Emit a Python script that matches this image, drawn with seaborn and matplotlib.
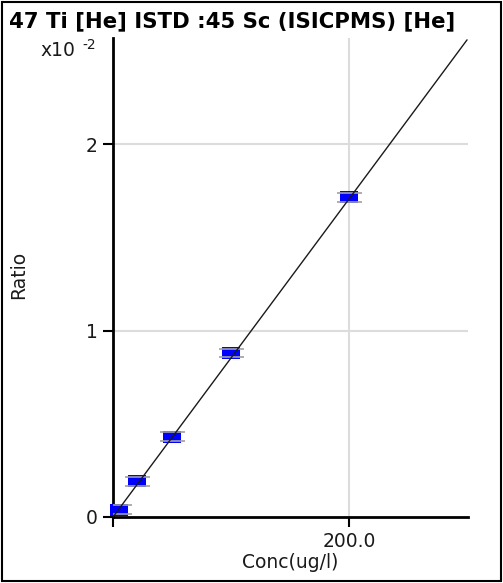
import matplotlib
matplotlib.use("Agg")
import matplotlib.pyplot as plt
import seaborn as sns
import numpy as np
import pandas as pd

sns.set_style("white")
plt.rcParams['font.family'] = ['DejaVu Sans']

# data (ratio in units of x10^-2)
conc = [5, 20, 50, 100, 200]
ratio = [0.04, 0.193, 0.43, 0.88, 1.716]
ratio_err = [0.024, 0.024, 0.024, 0.024, 0.024]
fit_x = [0, 300]
fit_y = [0.0, 2.56]
x_ticks = [0, 200]
x_ticklabels = ["", "200.0"]
y_ticks = [0, 1, 2]
y_ticklabels = ["0", "1", "2"]

W, H = 503, 583
fig = plt.figure(figsize=(W / 100, H / 100), dpi=100)
ax = fig.add_axes([113 / W, (H - 517) / H, 355 / W, 479 / H])

ax.set_xlim(0, 300.8)
ax.set_ylim(0, 2.57)

# grid
for gx in [200]:
    ax.axvline(gx, color="#dcdcdc", lw=1.5, zorder=0)
for gy in [1, 2]:
    ax.axhline(gy, color="#dcdcdc", lw=1.5, zorder=0)

# markers (wide blue rectangles)
rect = [(-1, -0.7), (1, -0.7), (1, 0.7), (-1, 0.7), (-1, -0.7)]
df = pd.DataFrame({"conc": conc, "ratio": ratio})
sns.scatterplot(data=df, x="conc", y="ratio", ax=ax, marker=rect, s=170,
                color="#0000ff", edgecolor="#0000ff", linewidth=0, zorder=4,
                clip_on=False)

# error bars (gray caps)
ax.errorbar(conc, ratio, yerr=ratio_err, fmt="none", ecolor="#a0a0a0",
            elinewidth=0, capsize=9, capthick=1.2, zorder=5)

# fit line
sns.lineplot(x=fit_x, y=fit_y, ax=ax, color="#1a1a1a", lw=1.0, zorder=6)

ax.set_xticks(x_ticks)
ax.set_xticklabels(x_ticklabels)
ax.set_yticks(y_ticks)
ax.set_yticklabels(y_ticklabels)
ax.tick_params(axis="both", direction="out", length=7, width=1.5, color="black",
               labelsize=13.5, labelcolor="#1a1a1a", left=True, bottom=True, pad=4)

for s in ["top", "right"]:
    ax.spines[s].set_visible(False)
for s in ["left", "bottom"]:
    ax.spines[s].set_color("black")
    ax.spines[s].set_linewidth(2.0)

ax.set_xlabel("")
ax.set_ylabel("")
fig.text(290 / W, 1 - 563 / H, "Conc(ug/l)", ha="center", va="center",
         fontsize=13.5, color="#1a1a1a")
fig.text(19 / W, 1 - 275 / H, "Ratio", ha="center", va="center",
         fontsize=13.5, rotation=90, color="#1a1a1a")
fig.text(40 / W, 1 - 51 / H, "x10", ha="left", va="center",
         fontsize=13.5, color="#1a1a1a")
fig.text(82 / W, 1 - 45 / H, "-2", ha="left", va="center",
         fontsize=10, color="#1a1a1a")
fig.text(9 / W, 1 - 21 / H, "47 Ti [He] ISTD :45 Sc (ISICPMS) [He]",
         ha="left", va="center", fontsize=15.3, fontweight="bold", color="black")

# outer border
fig.patches.append(plt.Rectangle((2 / W, 2 / H), 1 - 4 / W, 1 - 4 / H,
                                 transform=fig.transFigure, fill=False,
                                 edgecolor="black", lw=1.5))

fig.savefig("out.png", dpi=100)
